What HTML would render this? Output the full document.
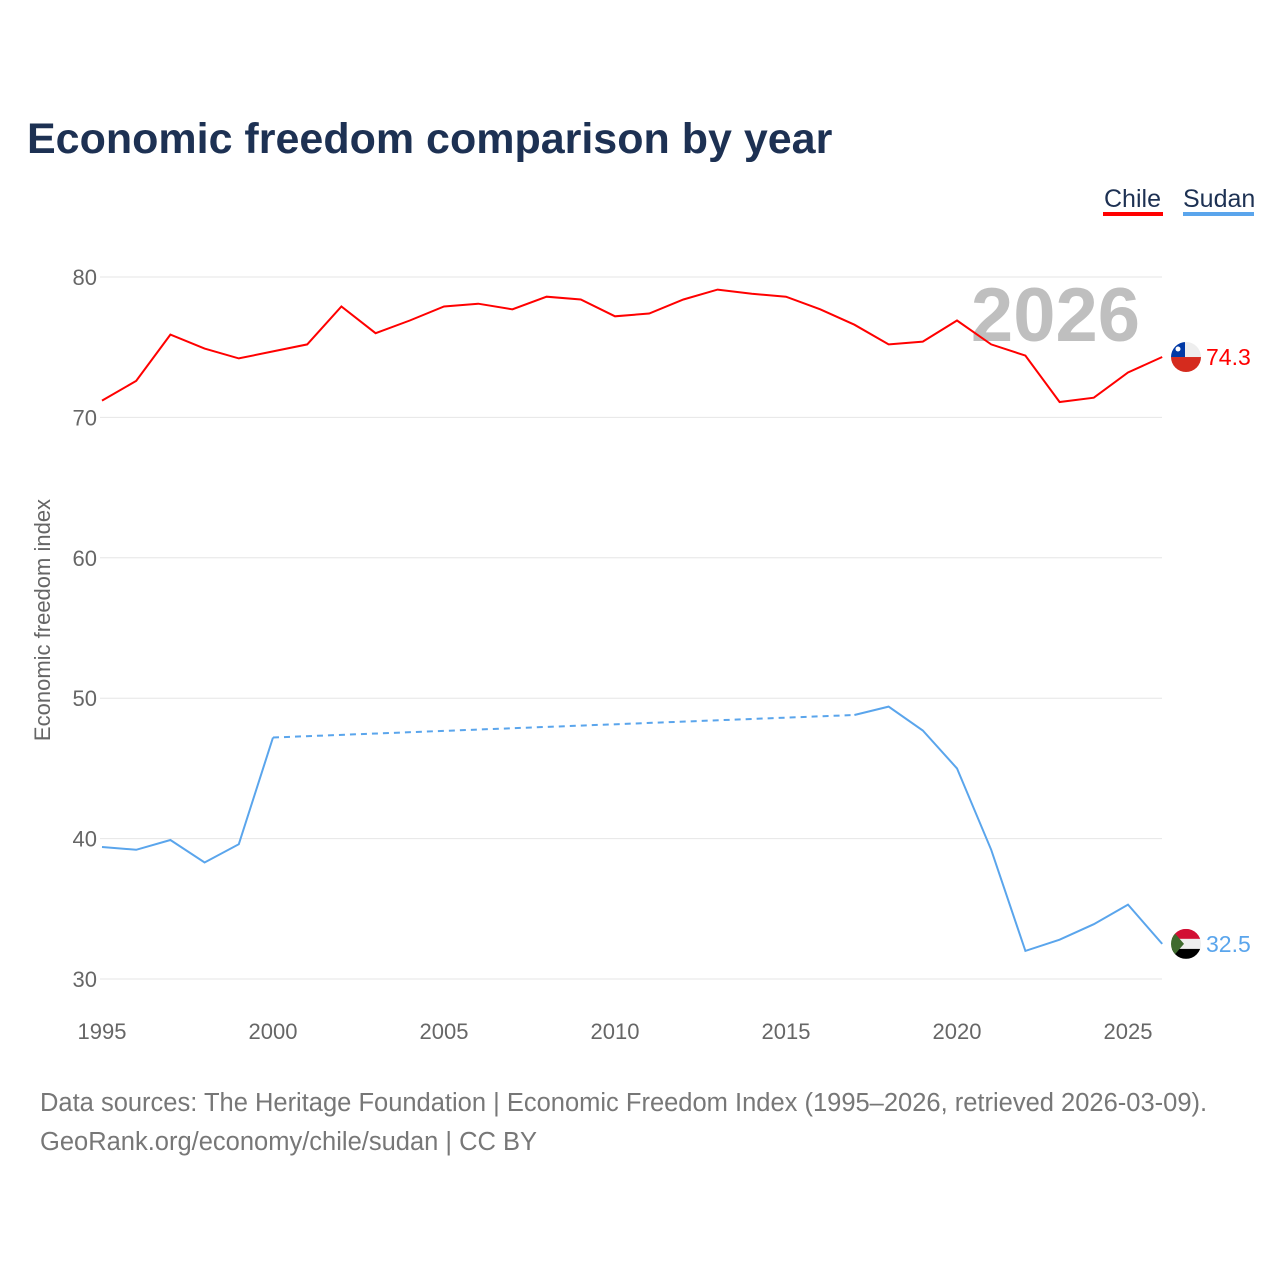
<!DOCTYPE html>
<html><head><meta charset="utf-8">
<style>
body{margin:0;background:#fff;font-family:"Liberation Sans",sans-serif;}
#wrap{position:relative;width:1280px;height:1280px;overflow:hidden;}
</style></head><body>
<div id="wrap">
<svg id="chart" width="1280" height="1280" font-family="Liberation Sans, sans-serif">
<text x="27" y="153" font-size="43" font-weight="bold" fill="#1d3153">Economic freedom comparison by year</text>
<g><text x="1104" y="207" font-size="25" fill="#1d3153">Chile</text><rect x="1103" y="212" width="60" height="4" fill="#ff0000"/></g>
<g><text x="1183" y="207" font-size="25" fill="#1d3153">Sudan</text><rect x="1183" y="212" width="71" height="4" fill="#5aa5ec"/></g>
<text x="1140" y="341" font-size="76" font-weight="bold" fill="#bfbfbf" text-anchor="end">2026</text>
<text transform="translate(50,620) rotate(-90)" font-size="22" fill="#666" text-anchor="middle">Economic freedom index</text>
<g id="grid"></g><g id="xt"></g><g id="series"></g>
<text x="40" y="1111" font-size="25.5" fill="#777">Data sources: The Heritage Foundation | Economic Freedom Index (1995–2026, retrieved 2026-03-09).</text>
<text x="40" y="1150" font-size="25.5" fill="#777">GeoRank.org/economy/chile/sudan | CC BY</text>
</svg></div>
<script>
const years=[];for(let y=1995;y<=2026;y++)years.push(y);
const chile=[71.2,72.6,75.9,74.9,74.2,74.7,75.2,77.9,76.0,76.9,77.9,78.1,77.7,78.6,78.4,77.2,77.4,78.4,79.1,78.8,78.6,77.7,76.6,75.2,75.4,76.9,75.2,74.4,71.1,71.4,73.2,74.3];
const sudan=[39.4,39.2,39.9,38.3,39.6,47.2,null,null,null,null,null,null,null,null,null,null,null,null,null,null,null,null,48.8,49.4,47.7,45.0,39.2,32.0,32.8,33.9,35.3,32.5];
const yTicks=[30,40,50,60,70,80];
const xTicks=[1995,2000,2005,2010,2015,2020,2025];
const X=y=>102+(y-1995)*34.2, Y=v=>979-(v-30)*14.04;
const NS="http://www.w3.org/2000/svg";
function mk(tag,attrs,parent,text){const e=document.createElementNS(NS,tag);for(const k in attrs)e.setAttribute(k,attrs[k]);if(text!==undefined)e.textContent=text;parent.appendChild(e);return e;}
const grid=document.getElementById('grid'),xt=document.getElementById('xt'),ser=document.getElementById('series');
yTicks.forEach(t=>{
 const l=mk('line',{x1:100,x2:1162,y1:Y(t),y2:Y(t),stroke:'#e6e6e6','stroke-width':1},grid);
 
 
 const tx=mk('text',{x:97,y:Y(t)+8,'font-size':22,fill:'#666','text-anchor':'end'},grid,String(t));
 
 
});
xTicks.forEach(t=>{
 const tx=mk('text',{x:X(t),y:1039,'font-size':22,fill:'#666','text-anchor':'middle'},xt,String(t));
 
 
});
function draw(vals,color,name,flagFn){
 let solid='',dashed='',prev=null,gap=false;
 vals.forEach((v,i)=>{
  if(v==null){if(prev)gap=true;return;}
  const p=X(years[i]).toFixed(1)+','+Y(v).toFixed(1);
  if(prev&&gap){dashed+='M'+prev+'L'+p;solid+='M'+p;}
  else solid+=(prev?'L':'M')+p;
  prev=p;gap=false;
 });
 const a=mk('path',{d:solid,fill:'none',stroke:color,'stroke-width':2},ser);
 
 
 if(dashed){const b=mk('path',{d:dashed,fill:'none',stroke:color,'stroke-width':2,'stroke-dasharray':'6,5'},ser);
 
 }
 const last=vals[vals.length-1],cy=Y(last);
 const g=mk('g',{},ser);
 
 
 flagFn(g,1186,cy);
 const t=mk('text',{x:1206,y:cy+8,'font-size':23,fill:color},ser,last.toFixed(1));
 
 
}
function chileFlag(g,cx,cy){
 mk('defs',{},g).innerHTML='<clipPath id="cc"><circle cx="'+cx+'" cy="'+cy+'" r="15"/></clipPath>';
 const h=mk('g',{'clip-path':'url(#cc)'},g);
 mk('rect',{x:cx-15,y:cy-15,width:30,height:15,fill:'#eee'},h);
 mk('rect',{x:cx-15,y:cy,width:30,height:15,fill:'#d52b1e'},h);
 mk('rect',{x:cx-15,y:cy-15,width:14,height:15,fill:'#0039a6'},h);
 mk('circle',{cx:cx-8,cy:cy-8,r:2.5,fill:'#fff'},h);
}
function sudanFlag(g,cx,cy){
 mk('defs',{},g).innerHTML='<clipPath id="cs"><circle cx="'+cx+'" cy="'+cy+'" r="15"/></clipPath>';
 const h=mk('g',{'clip-path':'url(#cs)'},g);
 mk('rect',{x:cx-15,y:cy-15,width:30,height:10,fill:'#d21034'},h);
 mk('rect',{x:cx-15,y:cy-5,width:30,height:10,fill:'#eee'},h);
 mk('rect',{x:cx-15,y:cy+5,width:30,height:10,fill:'#000'},h);
 mk('path',{d:'M'+(cx-15)+','+(cy-15)+'L'+(cx-2)+','+cy+'L'+(cx-15)+','+(cy+15)+'Z',fill:'#3f6b2e'},h);
}
draw(chile,'#ff0000','chile',chileFlag);
draw(sudan,'#5aa5ec','sudan',sudanFlag);
</script>
</body></html>
